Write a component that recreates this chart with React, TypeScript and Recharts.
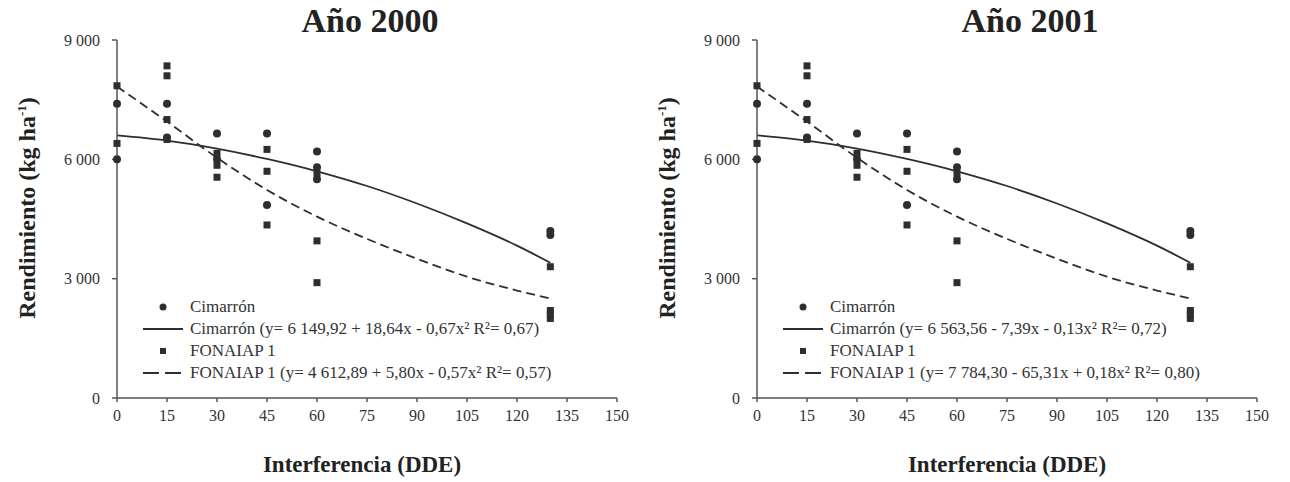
import React from 'react';
import { ComposedChart, Line, Scatter, XAxis, YAxis } from 'recharts';

// valores (DDE = días después de emergencia)
const xTicks = [0, 15, 30, 45, 60, 75, 90, 105, 120, 135, 150];
const yTicks = [0, 3000, 6000, 9000];

const cimarronPoints = [
  { x: 0, y: 7400 }, { x: 0, y: 6000 },
  { x: 15, y: 7400 }, { x: 15, y: 6550 },
  { x: 30, y: 6650 }, { x: 30, y: 6000 },
  { x: 45, y: 6650 }, { x: 45, y: 4850 },
  { x: 60, y: 6200 }, { x: 60, y: 5800 }, { x: 60, y: 5500 },
  { x: 130, y: 4200 }, { x: 130, y: 4100 },
];

const fonaiapPoints = [
  { x: 0, y: 7850 }, { x: 0, y: 6400 },
  { x: 15, y: 8350 }, { x: 15, y: 8100 }, { x: 15, y: 7000 }, { x: 15, y: 6500 },
  { x: 30, y: 6150 }, { x: 30, y: 5850 }, { x: 30, y: 5550 },
  { x: 45, y: 6250 }, { x: 45, y: 5700 }, { x: 45, y: 4350 },
  { x: 60, y: 5650 }, { x: 60, y: 3950 }, { x: 60, y: 2900 },
  { x: 130, y: 3300 }, { x: 130, y: 2200 }, { x: 130, y: 2100 }, { x: 130, y: 2000 },
];

const fitX = [0, 15, 30, 45, 60, 75, 90, 105, 120, 130];
const cimarronFit = [6600, 6470, 6270, 6010, 5700, 5330, 4890, 4390, 3830, 3400];
const fonaiapFit = [7830, 6950, 6040, 5230, 4560, 4000, 3500, 3050, 2700, 2500];

const cimarronCurve = fitX.map((x, i) => ({ x, y: cimarronFit[i] }));
const fonaiapCurve = fitX.map((x, i) => ({ x, y: fonaiapFit[i] }));

const legend2000 = [
  'Cimarrón',
  'Cimarrón (y= 6 149,92 + 18,64x - 0,67x² R²= 0,67)',
  'FONAIAP 1',
  'FONAIAP 1 (y= 4 612,89 + 5,80x - 0,57x² R²= 0,57)',
];
const legend2001 = [
  'Cimarrón',
  'Cimarrón (y= 6 563,56 - 7,39x - 0,13x² R²= 0,72)',
  'FONAIAP 1',
  'FONAIAP 1 (y= 7 784,30 - 65,31x + 0,18x² R²= 0,80)',
];

const FONT = '"Liberation Serif", "Times New Roman", serif';
const INK = '#2e2e2e';
const AXIS = '#555';

const fmt = (v: number) => (v === 0 ? '0' : `${Math.floor(v / 1000)} ${String(v % 1000).padStart(3, '0')}`);

const Dot = (p: any) => <circle cx={p.cx} cy={p.cy} r={4} fill={INK} />;
const Sq = (p: any) => <rect x={p.cx - 3.5} y={p.cy - 3.5} width={7} height={7} fill={INK} />;

const LegendBox = ({ labels }: { labels: string[] }) => (
  <div style={{ position: 'absolute', left: 143, top: 296, fontFamily: FONT, fontSize: 17, color: '#333' }}>
    {labels.map((t, i) => (
      <div key={i} style={{ display: 'flex', alignItems: 'center', height: 22 }}>
        <svg width={40} height={12} style={{ marginRight: 7 }}>
          {i === 0 && <circle cx={20} cy={6} r={3.5} fill={INK} />}
          {i === 1 && <line x1={0} y1={6} x2={40} y2={6} stroke={INK} strokeWidth={1.8} />}
          {i === 2 && <rect x={17} y={3} width={6} height={6} fill={INK} />}
          {i === 3 && <line x1={0} y1={6} x2={40} y2={6} stroke={INK} strokeWidth={1.8} strokeDasharray="16 6" />}
        </svg>
        <span style={{ whiteSpace: 'nowrap' }}>{t}</span>
      </div>
    ))}
  </div>
);

interface PanelProps {
  left: number;
  width: number;
  right: number;
  title: string;
  titleX: number;
  labelX: number;
  legend: string[];
}

const Panel = ({ left, width, right, title, titleX, labelX, legend }: PanelProps) => (
  <div style={{ position: 'absolute', left, top: 0, width, height: 482 }}>
    <ComposedChart width={width} height={482} margin={{ top: 40, right, bottom: 54, left: 0 }}>
      <XAxis
        type="number"
        dataKey="x"
        domain={[0, 150]}
        ticks={xTicks}
        interval={0}
        allowDuplicatedCategory={false}
        height={30}
        stroke={AXIS}
        strokeWidth={1.5}
        tickSize={4}
        tickMargin={8}
        tick={{ fill: '#333', fontSize: 16, fontFamily: FONT }}
      />
      <YAxis
        type="number"
        dataKey="y"
        domain={[0, 9000]}
        ticks={yTicks}
        interval={0}
        width={117}
        stroke={AXIS}
        strokeWidth={1.5}
        tickSize={5}
        tickMargin={12}
        tickFormatter={fmt}
        tick={{ fill: '#333', fontSize: 16, fontFamily: FONT }}
      />
      <Line data={cimarronCurve} dataKey="y" type="monotone" stroke={INK} strokeWidth={1.8} dot={false} isAnimationActive={false} />
      <Line data={fonaiapCurve} dataKey="y" type="monotone" stroke={INK} strokeWidth={1.8} strokeDasharray="9 5" dot={false} isAnimationActive={false} />
      <Scatter data={cimarronPoints} dataKey="y" shape={Dot} isAnimationActive={false} />
      <Scatter data={fonaiapPoints} dataKey="y" shape={Sq} isAnimationActive={false} />
    </ComposedChart>
    <LegendBox labels={legend} />
    <div style={{ position: 'absolute', left: titleX - 150, width: 300, top: 2, textAlign: 'center', fontFamily: FONT, fontWeight: 'bold', fontSize: 34, color: '#222' }}>
      {title}
    </div>
    <div style={{ position: 'absolute', left: labelX - 150, width: 300, top: 452, textAlign: 'center', fontFamily: FONT, fontWeight: 'bold', fontSize: 23, color: '#222' }}>
      Interferencia (DDE)
    </div>
    <div style={{ position: 'absolute', left: 22 - 150, top: 208 - 15, width: 300, height: 30, textAlign: 'center', transform: 'rotate(-90deg)', fontFamily: FONT, fontWeight: 'bold', fontSize: 24, color: '#222', lineHeight: '30px' }}>
      Rendimiento (kg ha<sup style={{ fontSize: 13 }}>-1</sup>)
    </div>
  </div>
);

export default function App() {
  return (
    <div style={{ position: 'absolute', left: 0, top: 0, width: 1290, height: 482, background: '#fff' }}>
      <Panel left={0} width={640} right={23} title="Año 2000" titleX={370} labelX={362} legend={legend2000} />
      <Panel left={640} width={650} right={33} title="Año 2001" titleX={390} labelX={367} legend={legend2001} />
    </div>
  );
}
